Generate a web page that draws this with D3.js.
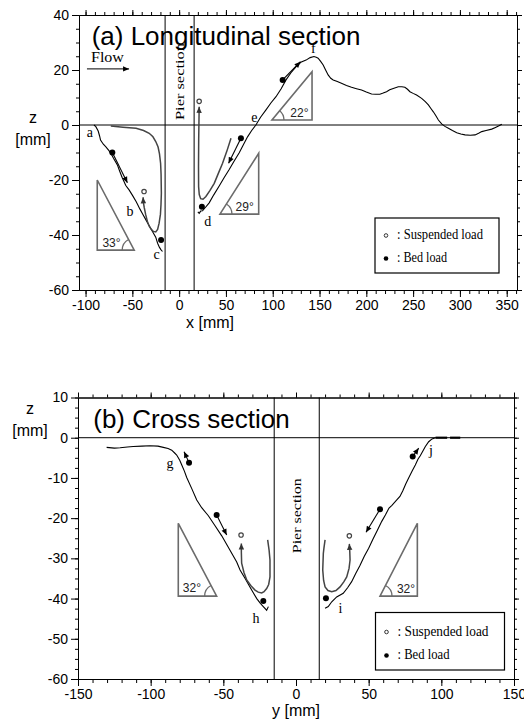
<!DOCTYPE html>
<html><head><meta charset="utf-8">
<script src="https://cdn.jsdelivr.net/npm/d3@7"></script>
<style>body{margin:0;background:#fff}svg{display:block}</style>
</head><body><svg id="c" width="524" height="727"></svg>
<script>
// ================= DATA =================
const topXMajor = [-100,-50,0,50,100,150,200,250,300,350];
const topYMajor = [-60,-40,-20,0,20,40];
const botXMajor = [-150,-100,-50,0,50,100,150];
const botYMajor = [-60,-50,-40,-30,-20,-10,0,10];
const pierEdges = [-15, 16];

// (a) Longitudinal section: bed profile upstream of pier (a-b-c)
const longProfileAC = [[-91,0],[-89,-0.6],[-86.5,-2.2],[-85,-4],[-84,-5.5],[-81,-7],[-78.5,-7.9],[-75,-9.3],[-73,-10.3],[-70,-12.2],[-66,-14.5],[-63.5,-16.8],[-61,-19],[-57,-22],[-53.5,-23.6],[-50,-25.5],[-46,-27.8],[-44.5,-28.8],[-42,-30.5],[-39.3,-32.2],[-35.5,-34.5],[-32,-36.6],[-28.5,-38.7],[-25,-40.8],[-23,-43],[-21,-44.5],[-19.5,-45.3],[-17.8,-46]];
// bed profile downstream of pier (d-e-f ...)
const longProfileDF = [[20,-31.6],[21.4,-32.1],[23,-31.3],[25,-31.2],[28,-30],[32.1,-28.3],[37,-25.4],[42.8,-22.2],[48,-19.2],[53.5,-16.2],[58.5,-13.3],[64.2,-10.1],[68.5,-7.3],[73.1,-4.3],[77.5,-2],[82,0],[87,2.8],[92.8,5.5],[98,8],[103.5,10.3],[109,13.2],[114.2,16.4],[119.5,19],[125,21.2],[130,22.8],[135.6,23.6],[140,24.5],[144,24.9],[146.5,24.6],[148.5,24.3],[151,23.2],[153.9,21.8],[156.5,20],[159.2,18.2],[162,17],[164.6,16.4],[169,15.8],[173.4,15.2],[178.8,14.4],[184.2,13.7],[189.5,13.2],[194.9,12.7],[200,12],[205.6,11.3],[210,11.2],[214.5,11.2],[218,11.6],[221.6,12.1],[225,12.8],[228.8,13.3],[234.2,13.9],[238,13.9],[241.2,13.7],[244,13],[246.6,12.1],[250,11.5],[253.7,10.9],[259.1,9.7],[263,8.5],[266.3,7.3],[269,6],[271.6,4.8],[274.5,3.3],[277,1.8],[280.5,0.4],[284,-0.5],[287.7,-1.2],[292,-2],[296.6,-2.8],[301,-3.3],[305.5,-3.6],[311,-3.7],[316.2,-3.6],[320,-3],[323.3,-2.4],[328,-2],[334,-1.5],[338,-0.9],[341.2,-0.4],[344.8,0.3]];
// suspended-load trajectories
const longSuspPathB = [[-73,-0.4],[-60,-0.8],[-46,-1.2],[-38,-2],[-32,-3],[-28,-4.3],[-25,-6],[-22.5,-8],[-21,-10.5],[-19.8,-14],[-19.3,-18],[-19,-24.8],[-19.4,-29],[-20,-32.5],[-21.4,-35.7],[-23,-38],[-25,-38.9],[-27.5,-38.7],[-30,-37.8],[-32,-36.8],[-34,-35],[-35.8,-32.5],[-37.3,-30],[-38.3,-28],[-38.5,-26.3]];
const longSuspPathD = [[55.4,-4.8],[51,-9.5],[46.4,-13.9],[42,-17.5],[37.5,-21.2],[33,-23.8],[28.6,-26],[25.5,-27],[23,-26.8],[21.5,-25.3],[20.8,-22.4],[20.7,-15],[20.9,-5],[21.2,2],[21.4,6.6]];
const longSuspPoints = [[-37.5,-24.2],[21.4,8.6]];
const longBedPoints = [[-71.4,-10],[-19.3,-41.8],[24.3,-29.7],[66,-4.8],[110.6,16.4]];
const longBedArrows = [[[-71.4,-10],[-55.3,-21]],[[66,-4.8],[52.8,-13.9]],[[110.6,16.4],[129.6,23]]];
const longTriangles = [
  {top:[-87.5,-20], corner:[-87.5,-45.5], acute:[-48,-45.5], label:"33°", at:[-72.3,-44.4]},
  {top:[85,-10.3], corner:[85,-32.4], acute:[43.6,-32.4], label:"29°", at:[70,-31.3]},
  {top:[142,19.4], corner:[142,1.8], acute:[99.2,1.8], label:"22°", at:[128.5,2.9]}
];
const longPointLabels = [["a",-95.3,-4.4],["b",-52.5,-33.1],["c",-24.1,-48.7],["d",30.6,-36.9],["e",80.3,1.2],["f",143.5,26.2]];

// (b) Cross section
const crossProfileLeft = [[-130.3,-2.4],[-125,-2.6],[-121,-2.5],[-116,-2.3],[-112,-2.2],[-106,-2.1],[-100.5,-2],[-95,-2.1],[-91.3,-2.4],[-88,-2.7],[-85.5,-3.1],[-83.5,-3.8],[-82.1,-4.3],[-80,-5.6],[-78.6,-6.8],[-76.8,-8.3],[-75.2,-9.9],[-71.8,-12.6],[-68.3,-15.5],[-64.9,-17.4],[-60.3,-19.4],[-55.7,-21.9],[-51.1,-24.4],[-45.4,-28],[-40.8,-30.9],[-38.5,-32.9],[-35,-35],[-31.7,-37.1],[-29,-38.8],[-27,-40],[-24.5,-41.2],[-22.5,-42],[-20.2,-42.9],[-19,-42]];
const crossProfileRight = [[20,-42.4],[22.2,-42],[24.6,-40.8],[28,-39.6],[32.5,-38.7],[35.5,-37.3],[38.3,-35.8],[41,-33.8],[44,-31.8],[47,-29.5],[50,-27.5],[53,-25.2],[56,-23],[59,-20.8],[61.5,-19.2],[64,-17.5],[66,-16.8],[69.5,-15.4],[71.5,-14.6],[73.5,-13.2],[75.5,-11.5],[77.5,-10],[80,-8.2],[82.1,-6.8],[84,-5.3],[85.5,-4.5],[87.5,-3.2],[89,-2.2],[91.3,-1],[93.6,-0.3],[96,0]];
const crossFlatSegments = [[[96,0],[104,0]],[[106,0],[113,0]]];
const crossSuspPathH = [[-19.5,-25.4],[-18.5,-28],[-17.9,-30.4],[-17.9,-34.6],[-18.8,-36.5],[-20.2,-37.5],[-22,-38.3],[-23.6,-38.6],[-26,-38.4],[-28.2,-37.9],[-31,-36.8],[-33.9,-35.4],[-35.8,-33.5],[-37.4,-31.2],[-37.6,-28.5],[-37.6,-26.3]];
const crossSuspPathI = [[20,-25.4],[19.2,-27.5],[18.8,-28.8],[18.4,-32.9],[19,-35.5],[20,-37.1],[22,-38],[24.6,-38.3],[27.5,-38],[30.3,-37.1],[33,-35.8],[34.9,-34.6],[36.5,-32.5],[37.2,-30.4],[37,-28.3],[36.7,-26.4]];
const crossSuspPoints = [[-37.8,-24.2],[36.7,-24.4]];
const crossBedPoints = [[-73.6,-6.2],[-54.6,-19.2],[-22.5,-40.6],[20.6,-39.9],[57.8,-17.8],[80.3,-4.7]];
const crossBedArrows = [[[-73.6,-6.2],[-77,-3.5]],[[-54.6,-19.2],[-47.7,-24.2]],[[57.8,-17.8],[48.2,-23.5]],[[80.3,-4.7],[84.4,-2.6]]];
const crossTriangles = [
  {top:[-81,-21.3], corner:[-81,-39.4], acute:[-54.6,-39.4], label:"32°", at:[-71.6,-38.4]},
  {top:[83.5,-21.3], corner:[83.5,-39.4], acute:[57.8,-39.4], label:"32°", at:[75.7,-38.6]}
];
const crossPointLabels = [["g",-86.7,-7.5],["h",-27.5,-46.1],["i",30.6,-43.6],["j",92.9,-4.3]];

const legendItems = ["Suspended load","Bed load"];

// ================= DRAWING =================
const SANS = "'Liberation Sans', Arial, sans-serif";
const SERIF = "'Liberation Serif', 'Times New Roman', serif";
const svg = d3.select("#c");
const defs = svg.append("defs");
function marker(id, color){
  defs.append("marker").attr("id",id).attr("viewBox","0 0 10 10")
    .attr("refX",10).attr("refY",5).attr("markerWidth",7).attr("markerHeight",6)
    .attr("markerUnits","userSpaceOnUse").attr("orient","auto")
    .append("path").attr("d","M0,0.5L10,5L0,9.5Z").attr("fill",color);
}
marker("ahB","#000"); marker("ahG","#333");

function panel(p){
  const g = svg.append("g");
  const x = p.x, y = p.y;
  const [xl, xr] = x.range();
  const [yb, yt] = y.range();
  const fmt = d => String(d);
  const styleAxis = sel => { sel.attr("font-family", SANS).attr("font-size", 14);
    sel.selectAll("path,line").attr("stroke","#000").attr("stroke-width",1);
    sel.selectAll("text").attr("fill","#000"); };

  // minor ticks
  g.append("g").attr("transform",`translate(0,${yb})`)
    .call(d3.axisBottom(x).tickValues(p.xMinor).tickSize(4).tickSizeOuter(0).tickFormat("")).call(styleAxis);
  g.append("g").attr("transform",`translate(0,${yt})`)
    .call(d3.axisTop(x).tickValues(p.xMinor).tickSize(3).tickSizeOuter(0).tickFormat("")).call(styleAxis);
  g.append("g").attr("transform",`translate(${xl},0)`)
    .call(d3.axisLeft(y).tickValues(p.yMinor).tickSize(3).tickSizeOuter(0).tickFormat("")).call(styleAxis);
  g.append("g").attr("transform",`translate(${xr},0)`)
    .call(d3.axisRight(y).tickValues(p.yMinor).tickSize(3).tickSizeOuter(0).tickFormat("")).call(styleAxis);
  // major ticks
  g.append("g").attr("transform",`translate(0,${yb})`)
    .call(d3.axisBottom(x).tickValues(p.xMajor).tickSize(7).tickPadding(3).tickSizeOuter(0).tickFormat(fmt)).call(styleAxis);
  g.append("g").attr("transform",`translate(0,${yt})`)
    .call(d3.axisTop(x).tickValues(p.xMajor).tickSize(5).tickSizeOuter(0).tickFormat("")).call(styleAxis);
  g.append("g").attr("transform",`translate(${xl},0)`)
    .call(d3.axisLeft(y).tickValues(p.yMajor).tickSize(7).tickPadding(3).tickSizeOuter(0).tickFormat(fmt)).call(styleAxis);
  g.append("g").attr("transform",`translate(${xr},0)`)
    .call(d3.axisRight(y).tickValues(p.yMajor).tickSize(5).tickSizeOuter(0).tickFormat("")).call(styleAxis);

  // zero line & pier edges
  g.append("line").attr("x1",xl).attr("x2",xr).attr("y1",y(0)).attr("y2",y(0)).attr("stroke","#000");
  pierEdges.forEach(v => g.append("line").attr("x1",x(v)).attr("x2",x(v)).attr("y1",yb).attr("y2",yt).attr("stroke","#000"));

  const line = d3.line().x(d=>x(d[0])).y(d=>y(d[1]));

  // triangles
  p.triangles.forEach(t => {
    g.append("path").attr("d", line([t.top, t.corner, t.acute]) + "Z")
      .attr("fill","none").attr("stroke","#6b6b6b").attr("stroke-width",1.6);
    const cx = x(t.acute[0]), cy = y(t.acute[1]);
    const a1 = Math.atan2(y(t.corner[1])-cy, x(t.corner[0])-cx);
    const a2 = Math.atan2(y(t.top[1])-cy, x(t.top[0])-cx);
    let dlt = a2 - a1; while (dlt > Math.PI) dlt -= 2*Math.PI; while (dlt <= -Math.PI) dlt += 2*Math.PI;
    const r = 12;
    g.append("path").attr("d", `M${cx+r*Math.cos(a1)},${cy+r*Math.sin(a1)}A${r},${r} 0 0 ${dlt>0?1:0} ${cx+r*Math.cos(a2)},${cy+r*Math.sin(a2)}`)
      .attr("fill","none").attr("stroke","#6b6b6b").attr("stroke-width",1.3);
    g.append("text").attr("x",x(t.at[0])).attr("y",y(t.at[1])).attr("text-anchor","middle")
      .attr("font-family",SANS).attr("font-size",12).attr("fill","#222").text(t.label);
  });

  // bed profiles
  p.profiles.forEach(pr => g.append("path").attr("d", line(pr)).attr("fill","none").attr("stroke","#000").attr("stroke-width",1.1));
  (p.flats||[]).forEach(s => g.append("path").attr("d", line(s)).attr("stroke","#000").attr("stroke-width",2.2));

  // suspended trajectories
  p.susp.forEach(pr => g.append("path").attr("d", line(pr)).attr("fill","none").attr("stroke","#444").attr("stroke-width",1.5).attr("marker-end","url(#ahG)"));
  p.suspPts.forEach(d => g.append("circle").attr("cx",x(d[0])).attr("cy",y(d[1])).attr("r",2.2).attr("fill","#fff").attr("stroke","#444").attr("stroke-width",1.2));

  // bed load arrows
  p.bedArrows.forEach(a => g.append("path").attr("d", line(a)).attr("stroke","#000").attr("stroke-width",1.1).attr("marker-end","url(#ahB)"));
  p.bedPts.forEach(d => g.append("circle").attr("cx",x(d[0])).attr("cy",y(d[1])).attr("r",3).attr("fill","#000"));

  // point labels
  p.labels.forEach(l => g.append("text").attr("x",x(l[1])).attr("y",y(l[2])).attr("text-anchor","middle")
    .attr("font-family",SERIF).attr("font-size",14).attr("fill","#000").text(l[0]));

  // pier section label
  g.append("text").attr("transform",`translate(${x((pierEdges[0]+pierEdges[1])/2)},${y(p.pierLabelY)}) rotate(-90)`)
    .attr("text-anchor","middle").attr("dy","0.33em").attr("font-family",SERIF).attr("font-size",13)
    .attr("textLength",p.pierLen).attr("lengthAdjust","spacingAndGlyphs").text("Pier section");

  // title
  g.append("text").attr("x",x(p.title[1])).attr("y",y(p.title[2])).attr("font-family",SANS).attr("font-size",26)
    .attr("fill","#000").text(p.title[0]);

  // axis titles
  g.append("text").attr("x",p.zx).attr("y",p.zy).attr("text-anchor","middle").attr("font-family",SANS).attr("font-size",16).text("z");
  g.append("text").attr("x",p.zx).attr("y",p.zy+22).attr("text-anchor","middle").attr("font-family",SANS).attr("font-size",16).text("[mm]");
  g.append("text").attr("x",p.xlx).attr("y",p.xly).attr("font-family",SANS).attr("font-size",16).text(p.xlabel);

  // legend
  const L = p.legend;
  g.append("rect").attr("x",L.x).attr("y",L.y).attr("width",L.w).attr("height",L.h)
    .attr("fill","#fff").attr("stroke","#000").attr("stroke-width",1.2);
  legendItems.forEach((name,i) => {
    const sy = L.y + L.row0 + i*L.dy;
    if (i===0) g.append("circle").attr("cx",L.x+11).attr("cy",sy-3.5).attr("r",1.8).attr("fill","#fff").attr("stroke","#333").attr("stroke-width",1);
    else g.append("circle").attr("cx",L.x+11).attr("cy",sy-3.5).attr("r",2.3).attr("fill","#000");
    g.append("text").attr("x",L.x+22).attr("y",sy).attr("font-family",SERIF).attr("font-size",14)
      .attr("textLength", L.lens[i]).attr("lengthAdjust","spacingAndGlyphs").text(": " + name);
  });
  return g;
}

// ---- panel (a) ----
const xA = d3.scaleLinear().domain([-107,361]).range([79,517]);
const yA = d3.scaleLinear().domain([-60,40]).range([290,15]);
const gA = panel({
  x:xA, y:yA, xMajor:topXMajor, yMajor:topYMajor,
  xMinor:d3.range(-100,361,10), yMinor:d3.range(-60,40.1,5),
  triangles:longTriangles, profiles:[longProfileAC,longProfileDF],
  susp:[longSuspPathB,longSuspPathD], suspPts:longSuspPoints,
  bedArrows:longBedArrows, bedPts:longBedPoints, labels:longPointLabels,
  pierLabelY:15.8, pierLen:77,
  title:["(a) Longitudinal section",-93.5,29],
  zx:33, zy:123, xlx:186, xly:328, xlabel:"x [mm]",
  legend:{x:375,y:218,w:124,h:55,row0:21,dy:23,lens:[86,50]}
});
// flow indicator
gA.append("text").attr("x",xA(-94.2)).attr("y",yA(22.9)).attr("font-family",SERIF).attr("font-size",14)
  .attr("textLength",33).attr("lengthAdjust","spacingAndGlyphs").text("Flow");
gA.append("path").attr("d", d3.line().x(d=>xA(d[0])).y(d=>yA(d[1]))([[-98.5,20.4],[-53.5,20.4]]))
  .attr("stroke","#000").attr("stroke-width",1).attr("marker-end","url(#ahB)");

// ---- panel (b) ----
const xB = d3.scaleLinear().domain([-150,150]).range([78,514]);
const yB = d3.scaleLinear().domain([-60,10]).range([679,397.5]);
panel({
  x:xB, y:yB, xMajor:botXMajor, yMajor:botYMajor,
  xMinor:d3.range(-150,150.1,10), yMinor:d3.range(-60,10.1,2.5),
  triangles:crossTriangles, profiles:[crossProfileLeft,crossProfileRight], flats:crossFlatSegments,
  susp:[crossSuspPathH,crossSuspPathI], suspPts:crossSuspPoints,
  bedArrows:crossBedArrows, bedPts:crossBedPoints, labels:crossPointLabels,
  pierLabelY:-19.4, pierLen:75,
  title:["(b) Cross section",-139.5,2.4],
  zx:30, zy:414, xlx:272, xly:716, xlabel:"y [mm]",
  legend:{x:375.5,y:612.5,w:129,h:57.5,row0:23,dy:23.5,lens:[91,52]}
});
</script></body></html>
